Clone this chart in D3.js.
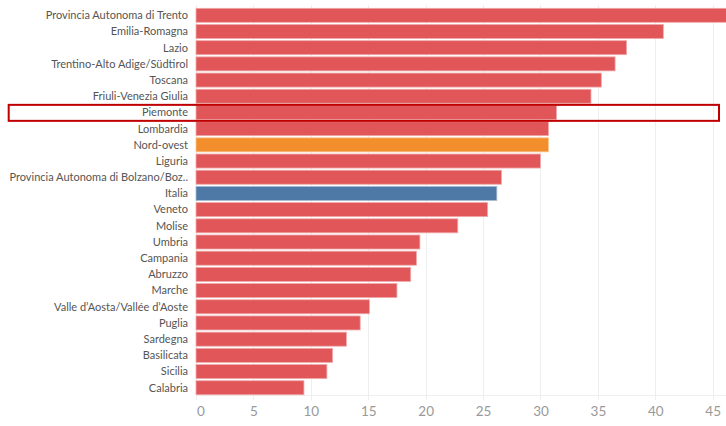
<!DOCTYPE html>
<html>
<head>
<meta charset="utf-8">
<script src="https://cdnjs.cloudflare.com/ajax/libs/d3/7.8.5/d3.min.js"></script>
<style>
  html, body { margin: 0; padding: 0; background: #fff; }
  svg { display: block; }
</style>
</head>
<body>
<svg id="chart" width="726" height="426"></svg>
<script>
const categories = [
  "Provincia Autonoma di Trento", "Emilia-Romagna", "Lazio", "Trentino-Alto Adige/Südtirol",
  "Toscana", "Friuli-Venezia Giulia", "Piemonte", "Lombardia", "Nord-ovest", "Liguria",
  "Provincia Autonoma di Bolzano/Boz..", "Italia", "Veneto", "Molise", "Umbria", "Campania",
  "Abruzzo", "Marche", "Valle d\u2019Aosta/Vallée d\u2019Aoste", "Puglia", "Sardegna",
  "Basilicata", "Sicilia", "Calabria"
];
const values = [
  46.2, 40.7, 37.5, 36.5, 35.3, 34.4, 31.4, 30.7, 30.7, 30.0,
  26.6, 26.2, 25.4, 22.8, 19.5, 19.2, 18.7, 17.5, 15.1, 14.3,
  13.1, 11.9, 11.4, 9.4
];
const groups = [
  "regione", "regione", "regione", "regione", "regione", "regione", "regione", "regione", "ripartizione", "regione",
  "regione", "italia", "regione", "regione", "regione", "regione", "regione", "regione", "regione", "regione",
  "regione", "regione", "regione", "regione"
];
const tickValues = [0, 5, 10, 15, 20, 25, 30, 35, 40, 45];
const highlighted = "Piemonte";

const colorOf = { regione: "#E15759", ripartizione: "#F28E2B", italia: "#4E79A7" };
const strokeOf = { regione: "#F0A9AA", ripartizione: "#F8C795", italia: "#A6BCD3" };

const data = categories.map((c, i) => ({ name: c, value: values[i], group: groups[i] }));

const svg = d3.select("#chart");
const x = d3.scaleLinear().domain([0, 45]).range([196, 712.7]);
const y = d3.scaleBand().domain(categories).range([7.25, 395.8]).paddingInner(0.135).paddingOuter(0.065);

// gridlines
svg.append("g").selectAll("line").data(tickValues).join("line")
  .attr("x1", d => Math.round(x(d)) + 0.5).attr("x2", d => Math.round(x(d)) + 0.5)
  .attr("y1", 5).attr("y2", 400)
  .attr("stroke", "#eeeeee").attr("stroke-width", 1);

// bottom axis line
svg.append("line")
  .attr("x1", 196).attr("x2", 726)
  .attr("y1", 395.5).attr("y2", 395.5)
  .attr("stroke", "#eeeeee").attr("stroke-width", 1);

// bars
svg.append("g").selectAll("rect").data(data).join("rect")
  .attr("x", x(0))
  .attr("y", d => y(d.name))
  .attr("width", d => x(d.value) - x(0))
  .attr("height", y.bandwidth())
  .attr("fill", d => colorOf[d.group])
  .attr("stroke", d => strokeOf[d.group])
  .attr("stroke-width", 0.8);

// row labels
svg.append("g").selectAll("text").data(data).join("text")
  .attr("x", 188)
  .attr("y", d => y(d.name) + y.bandwidth() / 2)
  .attr("dy", "0.35em")
  .attr("text-anchor", "end")
  .attr("font-family", "Lato, 'Open Sans', sans-serif")
  .attr("font-size", 11)
  .attr("fill", "#555")
  .text(d => d.name);

// x axis
const axis = d3.axisBottom(x).tickValues(tickValues).tickSize(0).tickPadding(0).tickFormat(d3.format("d"));
const gAxis = svg.append("g").attr("transform", "translate(0,406)").call(axis);
gAxis.select(".domain").remove();
gAxis.selectAll("text")
  .attr("dx", d => d === 0 ? 4.5 : 0)
  .attr("font-family", "Lato, 'Open Sans', sans-serif")
  .attr("font-size", 13.5)
  .attr("fill", "#999");

// highlight box
const hy = y(highlighted);
svg.append("rect")
  .attr("x", 8.7).attr("y", hy - 0.6)
  .attr("width", 710.3).attr("height", y.step() - 0.2)
  .attr("fill", "none")
  .attr("stroke", "#C00000")
  .attr("stroke-width", 2);
</script>
</body>
</html>
